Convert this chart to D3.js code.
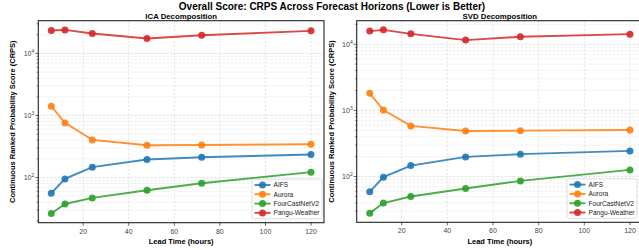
<!DOCTYPE html>
<html>
<head>
<meta charset="utf-8">
<script src="https://cdn.jsdelivr.net/npm/d3@7"></script>
<style>
  body { margin: 0; background: #fff; }
  svg { font-family: "Liberation Sans", Arial, sans-serif; }
</style>
</head>
<body>
<div id="chart"></div>
<script>
const leadTimes = [6, 12, 24, 48, 72, 120];
const models = ["AIFS", "Aurora", "FourCastNetV2", "Pangu-Weather"];
const colors = ["#1f77b4", "#ff7f0e", "#2ca02c", "#d62728"];

// ICA decomposition CRPS
const icaAIFS = [56, 95, 147, 195, 212, 235];
const icaAurora = [1410, 760, 404, 332, 335, 344];
const icaFourCast = [26.3, 37.5, 46.9, 62.4, 81, 122];
const icaPangu = [23500, 24000, 21000, 17450, 19700, 23150];

// SVD decomposition CRPS
const svdAIFS = [58.8, 98, 146.5, 198, 218, 244];
const svdAurora = [1810, 1014, 582, 489, 494, 506];
const svdFourCast = [28, 39.7, 49.9, 65.9, 86, 126];
const svdPangu = [15780, 16480, 14350, 11550, 12940, 14200];

const panels = [
  { title: "ICA Decomposition", series: [icaAIFS, icaAurora, icaFourCast, icaPangu],
    left: 38.3, right: 324, top: 20.7, bottom: 222.7, ylabX: 15 },
  { title: "SVD Decomposition", series: [svdAIFS, svdAurora, svdFourCast, svdPangu],
    left: 356.7, right: 643, top: 20.7, bottom: 222.3, ylabX: 334 }
];

const W = 639, H = 250;
const svg = d3.select("#chart").append("svg")
  .attr("width", W).attr("height", H);

svg.append("text")
  .attr("x", 332).attr("y", 10)
  .attr("text-anchor", "middle")
  .style("font-size", "10px").style("font-weight", "bold")
  .text("Overall Score: CRPS Across Forecast Horizons (Lower is Better)");

panels.forEach(p => {
  const xMin = d3.min(leadTimes), xMax = d3.max(leadTimes);
  const xm = (xMax - xMin) * 0.05;
  const x = d3.scaleLinear().domain([xMin - xm, xMax + xm]).range([p.left, p.right]);

  const all = p.series.flat();
  const lmin = Math.log10(d3.min(all)), lmax = Math.log10(d3.max(all));
  const lm = (lmax - lmin) * 0.05;
  const y = d3.scaleLog().domain([10 ** (lmin - lm), 10 ** (lmax + lm)]).range([p.bottom, p.top]);

  const g = svg.append("g");
  const clipId = "clip" + p.left;
  svg.append("clipPath").attr("id", clipId).append("rect")
    .attr("x", p.left).attr("y", p.top)
    .attr("width", p.right - p.left).attr("height", p.bottom - p.top);

  // log ticks
  const [d0, d1] = y.domain();
  const majors = [], minors = [];
  for (let k = Math.floor(Math.log10(d0)); k <= Math.ceil(Math.log10(d1)); k++) {
    for (let m = 1; m < 10; m++) {
      const v = m * 10 ** k;
      if (v < d0 || v > d1) continue;
      (m === 1 ? majors : minors).push(v);
    }
  }

  const grid = g.append("g").attr("clip-path", `url(#${clipId})`);
  grid.selectAll("line.ymin").data(minors).join("line")
    .attr("x1", p.left).attr("x2", p.right)
    .attr("y1", d => y(d)).attr("y2", d => y(d))
    .attr("stroke", "#e2e2e2").attr("stroke-width", 0.6).attr("stroke-dasharray", "2.5,1.5");
  grid.selectAll("line.ymaj").data(majors).join("line")
    .attr("x1", p.left).attr("x2", p.right)
    .attr("y1", d => y(d)).attr("y2", d => y(d))
    .attr("stroke", "#d6d6d6").attr("stroke-width", 0.7).attr("stroke-dasharray", "2.5,1.5");
  const xticks = [0, 20, 40, 60, 80, 100, 120];
  grid.selectAll("line.xg").data(xticks).join("line")
    .attr("x1", d => x(d)).attr("x2", d => x(d))
    .attr("y1", p.top).attr("y2", p.bottom)
    .attr("stroke", "#dcdcdc").attr("stroke-width", 0.7).attr("stroke-dasharray", "2.5,1.5");

  // lines and markers
  const line = d3.line().x((d, i) => x(leadTimes[i])).y(d => y(d));
  const marks = g.append("g").attr("clip-path", `url(#${clipId})`);
  p.series.forEach((s, si) => {
    marks.append("path").datum(s)
      .attr("d", line).attr("fill", "none")
      .attr("stroke", colors[si]).attr("stroke-width", 1.9).attr("stroke-opacity", 0.85);
    marks.selectAll(null).data(s).join("circle")
      .attr("cx", (d, i) => x(leadTimes[i])).attr("cy", d => y(d))
      .attr("r", 3.5).attr("fill", colors[si]).attr("fill-opacity", 0.9);
  });

  // spines
  g.append("rect")
    .attr("x", p.left).attr("y", p.top)
    .attr("width", p.right - p.left).attr("height", p.bottom - p.top)
    .attr("fill", "none").attr("stroke", "#222").attr("stroke-width", 1.1);

  // y ticks
  g.selectAll("line.ytmaj").data(majors).join("line")
    .attr("x1", p.left - 3).attr("x2", p.left)
    .attr("y1", d => y(d)).attr("y2", d => y(d))
    .attr("stroke", "#222").attr("stroke-width", 0.7);
  g.selectAll("line.ytmin").data(minors).join("line")
    .attr("x1", p.left - 1.8).attr("x2", p.left)
    .attr("y1", d => y(d)).attr("y2", d => y(d))
    .attr("stroke", "#222").attr("stroke-width", 0.5);
  const ylab = g.selectAll("text.yt").data(majors).join("text")
    .attr("x", p.left - 4).attr("y", d => y(d) + 2.5)
    .attr("text-anchor", "end")
    .style("font-size", "7px").attr("fill", "#444");
  ylab.append("tspan").text("10");
  ylab.append("tspan").attr("dy", -3).style("font-size", "5px")
    .text(d => Math.round(Math.log10(d)));

  // x ticks
  const xt = xticks.filter(d => d >= x.domain()[0]);
  g.selectAll("line.xt").data(xt).join("line")
    .attr("x1", d => x(d)).attr("x2", d => x(d))
    .attr("y1", p.bottom).attr("y2", p.bottom + 3)
    .attr("stroke", "#222").attr("stroke-width", 0.7);
  g.selectAll("text.xt").data(xt.filter(d => d > 0)).join("text")
    .attr("x", d => x(d)).attr("y", p.bottom + 11)
    .attr("text-anchor", "middle")
    .style("font-size", "7px").attr("fill", "#444")
    .text(d => d);

  // axis labels and title
  const cx = (p.left + p.right) / 2;
  g.append("text")
    .attr("x", cx).attr("y", 19)
    .attr("text-anchor", "middle")
    .style("font-size", "7.8px").style("font-weight", "bold")
    .text(p.title);
  g.append("text")
    .attr("x", cx).attr("y", 244)
    .attr("text-anchor", "middle")
    .style("font-size", "7.5px").style("font-weight", "bold")
    .text("Lead Time (hours)");
  g.append("text")
    .attr("transform", `translate(${p.ylabX},${(p.top + p.bottom) / 2}) rotate(-90)`)
    .attr("text-anchor", "middle")
    .style("font-size", "7.5px").style("font-weight", "bold")
    .text("Continuous Ranked Probability Score (CRPS)");

  // legend
  const lw = 70, lh = 39.5;
  const lx = Math.min(p.right, W) - 2 - lw, ly = p.bottom - 4 - lh;
  const leg = g.append("g").attr("transform", `translate(${lx},${ly})`);
  leg.append("rect")
    .attr("width", lw).attr("height", lh).attr("rx", 1.5)
    .attr("fill", "#fff").attr("fill-opacity", 0.9)
    .attr("stroke", "#d0d0d0").attr("stroke-width", 0.7);
  models.forEach((m, i) => {
    const yy = 5.8 + i * 9.3;
    leg.append("line")
      .attr("x1", 2.5).attr("x2", 18.5).attr("y1", yy).attr("y2", yy)
      .attr("stroke", colors[i]).attr("stroke-width", 1.9).attr("stroke-opacity", 0.85);
    leg.append("circle")
      .attr("cx", 10.5).attr("cy", yy).attr("r", 3.5)
      .attr("fill", colors[i]).attr("fill-opacity", 0.9);
    leg.append("text")
      .attr("x", 21.5).attr("y", yy + 2.4)
      .style("font-size", "6.6px").attr("fill", "#222")
      .text(m);
  });
});
</script>
</body>
</html>
